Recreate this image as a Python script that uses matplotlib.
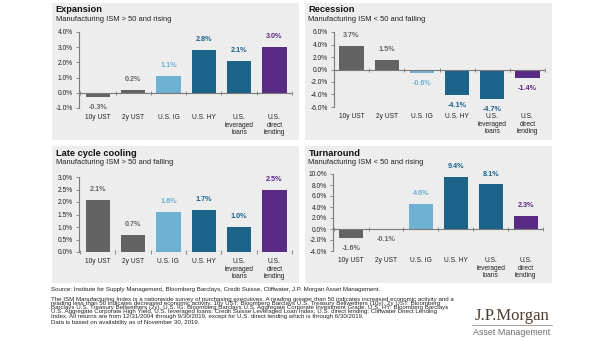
import matplotlib
matplotlib.use("Agg")
import matplotlib.pyplot as plt
from matplotlib.patches import Rectangle
from matplotlib.ticker import FuncFormatter, MultipleLocator

plt.rcParams['font.family'] = ['Liberation Sans', 'DejaVu Sans']

# ---- data -------------------------------------------------------------
categories = ["10y UST", "2y UST", "U.S. IG", "U.S. HY",
              "U.S.\nleveraged\nloans", "U.S.\ndirect\nlending"]

expansion = [-0.3, 0.2, 1.1, 2.8, 2.1, 3.0]
recession = [3.7, 1.5, -0.6, -4.1, -4.7, -1.4]
late_cycle = [2.1, 0.7, 1.6, 1.7, 1.0, 2.5]
turnaround = [-1.6, -0.1, 4.6, 9.4, 8.1, 2.3]

titles = ["Expansion", "Recession", "Late cycle cooling", "Turnaround"]
subtitles = ["Manufacturing ISM > 50 and rising",
             "Manufacturing ISM < 50 and falling",
             "Manufacturing ISM > 50 and falling",
             "Manufacturing ISM < 50 and rising"]

# ---- styling ------------------------------------------------------------
GRAY = "#636363"
LIGHT_BLUE = "#6FB1D3"
DARK_BLUE = "#1B6389"
PURPLE = "#5A2B84"
bar_colors = [GRAY, GRAY, LIGHT_BLUE, DARK_BLUE, DARK_BLUE, PURPLE]
label_colors = ["#666666", "#666666", "#6FB1D3", DARK_BLUE, DARK_BLUE, PURPLE]
PANEL_BG = "#EDEDED"
AXIS_COLOR = "#7a7a7a"

W, H = 605, 341
fig = plt.figure(figsize=(W / 100, H / 100), dpi=100)
fig.patch.set_facecolor("white")


def fx(x):
    return x / W


def fy(y):
    return 1 - y / H


# panel boxes (pixel left, top, right, bottom)
panels = [(52, 3, 299, 140), (305, 3, 552, 140),
          (52, 146, 299, 283), (305, 146, 552, 283)]

# axes boxes in pixels: left, right, top, bottom; with limits
axes_specs = [
    dict(box=(79, 292, 32, 108), ylim=(-1, 4), step=1.0, xlim=(-0.54, 5.5)),
    dict(box=(334, 545, 32, 107), ylim=(-6, 6), step=2.0, xlim=(-0.5, 5.5)),
    dict(box=(79, 292, 177, 252), ylim=(0, 3), step=0.5, xlim=(-0.53, 5.5)),
    dict(box=(333, 543, 174, 251), ylim=(-4, 10), step=2.0, xlim=(-0.52, 5.5)),
]

series = [expansion, recession, late_cycle, turnaround]

for (pl, pt, pr, pb), spec, vals, title, sub in zip(panels, axes_specs, series,
                                                    titles, subtitles):
    fig.patches.append(Rectangle((fx(pl), fy(pb)), fx(pr) - fx(pl),
                                 fy(pt) - fy(pb), transform=fig.transFigure,
                                 facecolor=PANEL_BG, edgecolor="none",
                                 zorder=-5))
    fig.text(fx(pl + 3.5), fy(pt + 7), title, fontsize=6.7, fontweight="bold",
             color="#111111", va="center", ha="left")
    fig.text(fx(pl + 3.5), fy(pt + 16.5), sub, fontsize=5.4,
             color="#222222", va="center", ha="left")

    l, r, t, b = spec["box"]
    ax = fig.add_axes([fx(l), fy(b), fx(r) - fx(l), fy(t) - fy(b)])
    ax.set_zorder(2)
    ax.set_facecolor("none")
    x = list(range(len(categories)))
    ax.bar(x, vals, width=0.69, color=bar_colors, zorder=2)
    ax.set_xlim(*spec["xlim"])
    ax.set_ylim(*spec["ylim"])
    ax.axhline(0, color=AXIS_COLOR, lw=0.8, zorder=3)
    # small category-divider ticks on the zero line
    dividers = [i + 0.5 for i in range(-1, len(categories))]
    ax.plot(dividers, [0] * len(dividers), linestyle="none", marker="|",
            markersize=3.5, markeredgewidth=0.6, color=AXIS_COLOR,
            zorder=3, clip_on=False)

    for s in ("top", "right", "bottom"):
        ax.spines[s].set_visible(False)
    ax.spines["left"].set_color(AXIS_COLOR)
    ax.spines["left"].set_linewidth(0.8)

    ax.yaxis.set_major_locator(MultipleLocator(spec["step"]))
    ax.yaxis.set_major_formatter(FuncFormatter(lambda v, p: f"{v:.1f}%"))
    ax.tick_params(axis="y", length=2.5, width=0.6, color=AXIS_COLOR,
                   labelsize=4.8, labelcolor="#222222", pad=2)
    ax.set_xticks(x)
    ax.set_xticklabels(categories, fontsize=4.8, color="#222222",
                       linespacing=1.1, va="top")
    ax.tick_params(axis="x", length=0, pad=4.5)

    for xi, v, c in zip(x, vals, label_colors):
        off = 5 if v >= 0 else -5
        ax.annotate(f"{v:.1f}%", (xi, v), xytext=(0, off),
                    textcoords="offset points", ha="center",
                    va="bottom" if v >= 0 else "top",
                    fontsize=5.2, fontweight="bold", color=c, zorder=4)

# ---- footnotes ------------------------------------------------------------
notes = [
    (289, "Source: Institute for Supply Management, Bloomberg Barclays, Credit Suisse, Cliffwater, J.P. Morgan Asset Management."),
    (299, "The ISM Manufacturing Index is a nationwide survey of purchasing executives. A reading greater than 50 indicates increased economic activity and a"),
    (303.3, "reading less than 50 indicates decreased economic activity. 10y UST: Bloomberg Barclays U.S. Treasury Bellwethers (10y), 2y UST: Bloomberg"),
    (307.6, "Barclays U.S. Treasury Bellwethers (2y), U.S. IG: Bloomberg Barclays U.S. Aggregate Corporate Investment Grade, U.S. HY: Bloomberg Barclays"),
    (311.9, "U.S. Aggregate Corporate High Yield, U.S. leveraged loans: Credit Suisse Leveraged Loan Index, U.S. direct lending: Cliffwater Direct Lending"),
    (316.2, "Index. All returns are from 12/31/2004 through 9/30/2019, except for U.S. direct lending which is through 6/30/2019."),
    (322.5, "Data is based on availability as of November 30, 2019."),
]
for y, txt in notes:
    fig.text(fx(51), fy(y), txt, fontsize=4.4, color="#222222",
             va="center", ha="left")

# ---- logo -----------------------------------------------------------------
fig.text(fx(512), fy(316), "J.P.Morgan", family="Liberation Serif",
         fontsize=12, color="#4B3B2F", ha="center", va="center")
fig.lines.append(plt.Line2D([fx(472), fx(552)], [fy(325), fy(325)],
                            transform=fig.transFigure, color="#8C7F72",
                            lw=0.5))
fig.text(fx(512), fy(332.5), "Asset Management", fontsize=6.4,
         color="#6D6E71", ha="center", va="center")

fig.savefig("out.png", dpi=100)
